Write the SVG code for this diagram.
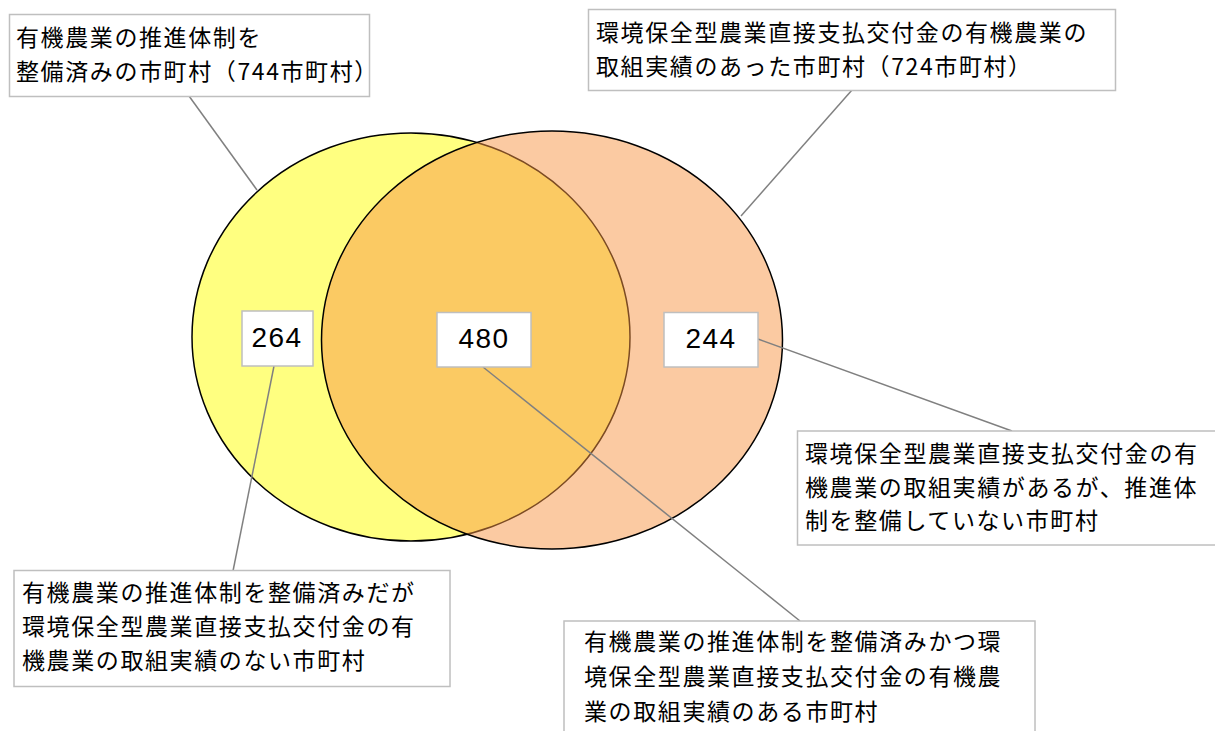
<svg xmlns="http://www.w3.org/2000/svg" width="1215" height="731" viewBox="0 0 1215 731">
<style>
.box{fill:#ffffff;stroke:#bfbfbf;stroke-width:1.5}
.jp{font-family:"Noto Sans CJK JP","Noto Sans CJK SC",sans-serif;font-size:23px;letter-spacing:1.6px;fill:#000}
.num{font-family:"Liberation Sans",Arial,sans-serif;font-size:28px;letter-spacing:1.5px;fill:#000;text-anchor:middle}
.conn{stroke:#808080;stroke-width:1.5;fill:none}
</style>
<rect width="1215" height="731" fill="#ffffff"/>
<g id="venn">
<ellipse id="set-a" cx="411" cy="337" rx="219" ry="204" fill="#ffff80" stroke="#000" stroke-width="1.5"/>
<ellipse id="set-b" cx="552" cy="340" rx="230.5" ry="209" fill="#f79646" fill-opacity="0.5" stroke="#000" stroke-width="1.5"/>
</g>
<g id="connectors">
<line class="conn" x1="189" y1="96" x2="257" y2="190"/>
<line class="conn" x1="852" y1="90" x2="741" y2="216"/>
<line class="conn" x1="274" y1="366" x2="233" y2="571"/>
<line class="conn" x1="483" y1="367" x2="800" y2="621"/>
<line class="conn" x1="758" y1="339" x2="1012" y2="431"/>
</g>
<g id="label-a">
<rect class="box" x="9.5" y="14.5" width="360" height="82"/>
<text class="jp" x="16" y="46">有機農業の推進体制を</text>
<text class="jp" x="16" y="79.5">整備済みの市町村（744市町村）</text>
</g>
<g id="label-b">
<rect class="box" x="588.5" y="9.5" width="527" height="81"/>
<text class="jp" x="596" y="41">環境保全型農業直接支払交付金の有機農業の</text>
<text class="jp" x="596" y="74.5">取組実績のあった市町村（724市町村）</text>
</g>
<g id="count-a">
<rect class="box" x="242" y="311" width="71" height="55"/>
<text class="num" x="277" y="347">264</text>
</g>
<g id="count-ab">
<rect class="box" x="437" y="312.5" width="94" height="54.5"/>
<text class="num" x="484" y="348">480</text>
</g>
<g id="count-b">
<rect class="box" x="664" y="312.5" width="94" height="54.5"/>
<text class="num" x="711" y="348">244</text>
</g>
<g id="desc-b">
<rect class="box" x="797.5" y="431" width="430" height="114"/>
<text class="jp" x="805" y="462">環境保全型農業直接支払交付金の有</text>
<text class="jp" x="805" y="496">機農業の取組実績があるが、推進体</text>
<text class="jp" x="805" y="529">制を整備していない市町村</text>
</g>
<g id="desc-a">
<rect class="box" x="14" y="570.5" width="436" height="116"/>
<text class="jp" x="22" y="601">有機農業の推進体制を整備済みだが</text>
<text class="jp" x="22" y="635">環境保全型農業直接支払交付金の有</text>
<text class="jp" x="22" y="669">機農業の取組実績のない市町村</text>
</g>
<g id="desc-ab">
<rect class="box" x="564" y="621" width="471" height="130"/>
<text class="jp" x="584" y="650">有機農業の推進体制を整備済みかつ環</text>
<text class="jp" x="584" y="685">境保全型農業直接支払交付金の有機農</text>
<text class="jp" x="584" y="720">業の取組実績のある市町村</text>
</g>
</svg>
